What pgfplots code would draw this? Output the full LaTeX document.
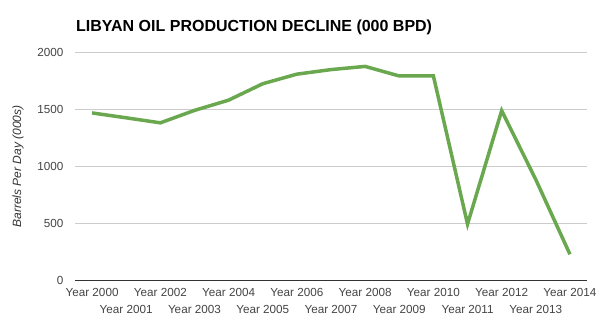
\documentclass[border=0pt]{standalone}
\usepackage{fontspec}
\setmainfont{Liberation Sans}
\usepackage{pgfplots}
\pgfplotsset{compat=1.18}
\definecolor{linegreen}{HTML}{6AA84F}
\definecolor{gridgray}{HTML}{CCCCCC}
\definecolor{ticktext}{HTML}{444444}
\definecolor{axisdark}{HTML}{333333}
\begin{document}
\begin{tikzpicture}
\useasboundingbox (0,0) rectangle (607bp,328bp);
\begin{axis}[
  at={(75bp,47.5bp)}, anchor=south west,
  scale only axis, width=512bp, height=228bp,
  xmin=-0.5, xmax=14.5, ymin=0, ymax=2000,
  axis line style={draw=none},
  major tick length=0pt,
  /pgf/number format/assume math mode=true,
  /pgf/number format/1000 sep={},
  ytick={500,1000,1500,2000},
  yticklabel style={font=\fontsize{11.7bp}{13bp}\selectfont, text=ticktext, inner sep=0pt, anchor=east, xshift=-11.5bp},
  ymajorgrids, grid style={color=gridgray, line width=0.9bp},
  extra y ticks={0},
  extra y tick style={grid style={color=axisdark, line width=1.1bp}},
  xtick={0,2,4,6,8,10,12,14},
  xticklabels={Year 2000,Year 2002,Year 2004,Year 2006,Year 2008,Year 2010,Year 2012,Year 2014},
  xticklabel style={font=\fontsize{11.7bp}{13bp}\selectfont, text=ticktext, inner sep=0pt, anchor=north, yshift=-8bp},
  extra x ticks={1,3,5,7,9,11,13},
  extra x tick labels={Year 2001,Year 2003,Year 2005,Year 2007,Year 2009,Year 2011,Year 2013},
  extra x tick style={xmajorgrids=false, tick label style={yshift=-17bp}},
  clip=false,
]
\addplot[color=linegreen, line width=3.5bp, mark=none] coordinates {
  (0,1470) (1,1427) (2,1383) (3,1492) (4,1582) (5,1726) (6,1810) (7,1850)
  (8,1878) (9,1794) (10,1794) (11,495) (12,1490) (13,885) (14,230)
};
\end{axis}
\node[anchor=base west, inner sep=0pt, font=\fontsize{16bp}{18bp}\selectfont\bfseries] at (76bp,296bp) {LIBYAN OIL PRODUCTION DECLINE (000 BPD)};
\node[rotate=90, inner sep=0pt, font=\fontsize{12bp}{14bp}\selectfont\itshape, text=axisdark] at (18bp,161.5bp) {Barrels Per Day (000s)};
\end{tikzpicture}
\end{document}
